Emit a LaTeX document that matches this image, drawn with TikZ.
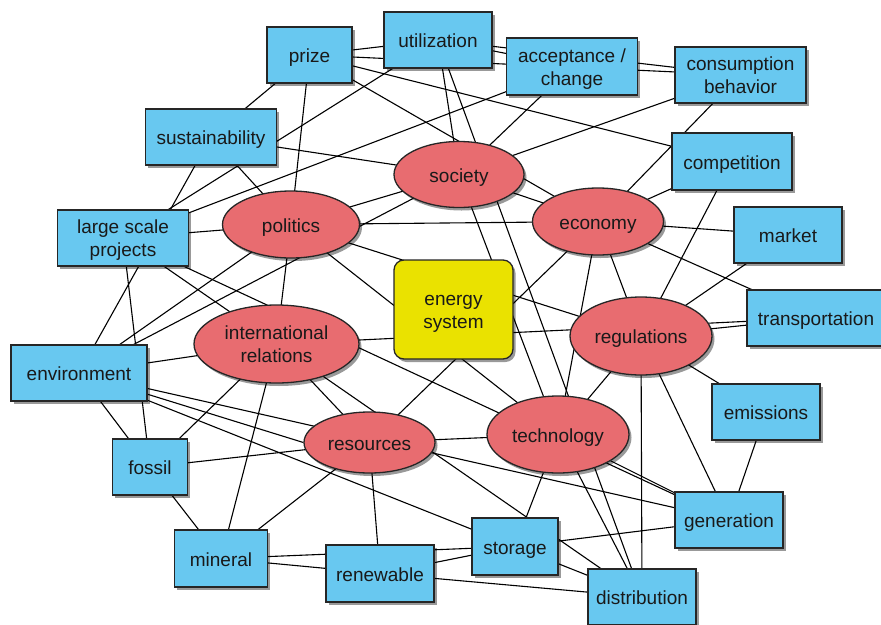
\documentclass[tikz,border=0pt]{standalone}
\usepackage{fontspec}
\setmainfont{Liberation Sans}
\usetikzlibrary{shapes.geometric,shadows,backgrounds}
\definecolor{boxblue}{RGB}{104,200,240}
\definecolor{ellred}{RGB}{232,108,112}
\definecolor{esyellow}{RGB}{234,226,0}
\begin{document}
\begin{tikzpicture}[x=1pt,y=-1pt,
  base/.style={draw=black!85, line width=1.3pt, font=\fontsize{19}{23}\selectfont,
    text=black!90, align=center, inner sep=0pt, text height=15pt, text depth=0pt,
    drop shadow={shadow xshift=2.5pt, shadow yshift=-3pt, opacity=0.4, fill=black}},
  two/.style={text height=37.5pt, text depth=0pt},
  bbox/.style={base, rectangle, fill=boxblue, minimum height=56pt},
  ell/.style={base, ellipse, fill=ellred},
  esbox/.style={base, rectangle, rounded corners=10pt, fill=esyellow},
  conn/.style={line width=1.1pt, draw=black}
]
\useasboundingbox (0,0) rectangle (881,624);
% boxes
\node[bbox, minimum width=85pt]  (P)  at (309.5,55)  {prize};
\node[bbox, minimum width=108pt] (U)  at (438,40)    {utilization};
\node[bbox, two, minimum width=131pt, minimum height=57pt] (A) at (572,66.5) {acceptance /\\change};
\node[bbox, two, minimum width=131pt] (C)  at (740.5,75)  {consumption\\behavior};
\node[bbox, minimum width=131pt] (S)  at (211,137)   {sustainability};
\node[bbox, minimum width=120pt, minimum height=57pt] (Co) at (732,161.5) {competition};
\node[bbox, two, minimum width=131pt] (L)  at (123,238)   {large scale\\projects};
\node[bbox, minimum width=108pt] (M)  at (788,235)   {market};
\node[bbox, minimum width=138pt] (T)  at (816,318)   {transportation};
\node[bbox, minimum width=136pt] (E)  at (79,373)    {environment};
\node[bbox, minimum width=108pt] (Em) at (766,412)   {emissions};
\node[bbox, minimum width=75pt]  (F)  at (150,467)   {fossil};
\node[bbox, minimum width=108pt] (G)  at (729,520)   {generation};
\node[bbox, minimum width=93pt, minimum height=57pt]  (Mi) at (221,558.5) {mineral};
\node[bbox, minimum width=108pt, minimum height=57pt] (R)  at (380,573.5) {renewable};
\node[bbox, minimum width=86pt, minimum height=57pt]  (St) at (515,546.5) {storage};
\node[bbox, minimum width=108pt] (D)  at (642,597)   {distribution};
% ellipses
\node[ell, minimum width=130pt, minimum height=66pt] (So) at (459,174.5) {society};
\node[ell, minimum width=137pt, minimum height=67pt] (Po) at (291,224.5) {politics};
\node[ell, minimum width=131pt, minimum height=67pt] (Ec) at (598,221.5) {economy};
\node[ell, two, minimum width=165pt, minimum height=78pt] (IR) at (276.5,344) {international\\relations};
\node[ell, minimum width=142pt, minimum height=78pt] (Rg) at (641,336)   {regulations};
\node[ell, minimum width=131pt, minimum height=61pt] (Rs) at (369.5,442.5) {resources};
\node[ell, minimum width=142pt, minimum height=77pt] (Te) at (558,434.5) {technology};
% energy system
\node[esbox, two, minimum width=119pt, minimum height=99pt] (ES) at (453.5,309.5) {energy\\system};
% connectors
\begin{pgfonlayer}{background}
\foreach \a/\b in {P/U, P/C, U/A, U/C, P/S, P/Po, P/Co, P/Ec, U/L, S/So, S/E, S/Po,
  U/So, U/D, So/Te, E/Po, E/So, Po/So, Po/Ec, E/IR, E/G, E/D, IR/D, F/Rs,
  L/A, L/Po, L/F, L/IR, L/G, IR/Rs, IR/Po, IR/Mi, IR/F, IR/T, Po/Rg, Po/Te,
  So/A, So/C, So/Ec, Ec/C, Ec/Co, Ec/M, Ec/T, Ec/Te, Ec/Rg, Ec/Rs,
  Rg/Co, Rg/M, Rg/T, Rg/Em, Rg/G, Rg/D, Em/G, Te/G, Te/D, Te/St, Rs/Te,
  St/G, Mi/St, Mi/R, R/St, R/D, Rs/R, Rs/Mi, F/Mi, E/F, Rg/Te}
  \draw[conn] (\a.center) -- (\b.center);
\draw[conn] (E.center) -- (Rs.west);
\end{pgfonlayer}
\end{tikzpicture}
\end{document}
